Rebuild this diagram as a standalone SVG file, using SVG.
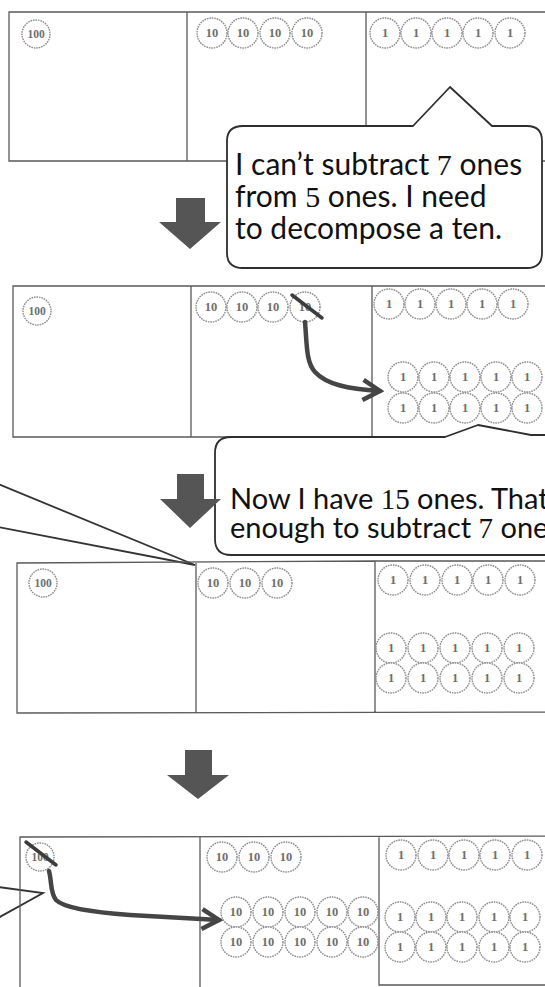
<svg xmlns="http://www.w3.org/2000/svg" width="545" height="987" viewBox="0 0 545 987">
<defs>
<style>
.frame{fill:none;stroke:#5a5a5a;stroke-width:1.3}
.coin circle{fill:#fff;stroke:#8a8a8a;stroke-width:1.4;stroke-dasharray:1.6 0.9}
.coin text{font-family:"Liberation Serif",serif;font-weight:bold;font-size:12.5px;fill:#6e6e6e;text-anchor:middle}
.coin text.h{font-size:11.5px}
.callout{fill:#fff;stroke:#2e2e2e;stroke-width:1.8;stroke-linejoin:round}
.say{font-family:Lato,"Liberation Sans",sans-serif;font-size:30px;fill:#111}
.say2{font-family:Lato,"Liberation Sans",sans-serif;font-size:29px;fill:#111}
.num{font-family:"Liberation Serif",serif}
.big{fill:#555}
.curve{fill:none;stroke:#454545;stroke-width:4.5;stroke-linecap:round}
.strike{stroke:#3c3c3c;stroke-width:3.5;stroke-linecap:round}
.ptr{fill:none;stroke:#333;stroke-width:1.8}
</style>
<marker id="chev" viewBox="0 0 24 24" refX="20" refY="12" markerWidth="24" markerHeight="24" markerUnits="userSpaceOnUse" orient="auto">
<path d="M3,2 L20,12 L3,22" fill="none" stroke="#454545" stroke-width="4.5" stroke-linejoin="miter"/>
</marker>
</defs>
<rect width="545" height="987" fill="#fff"/>

<!-- Panel 1 -->
<g id="panel1">
<path class="frame" d="M560,12 L9,12 L9,161 L560,161 M187,12 L187,161 M366,12 L366,161"/>
<g class="coin"><circle cx="36" cy="34" r="14"/><text class="h" x="36" y="38">100</text></g>
<g class="coin"><circle cx="212" cy="33" r="15"/><text x="212" y="37">10</text></g>
<g class="coin"><circle cx="243" cy="33" r="15"/><text x="243" y="37">10</text></g>
<g class="coin"><circle cx="275" cy="33" r="15"/><text x="275" y="37">10</text></g>
<g class="coin"><circle cx="307" cy="33" r="15"/><text x="307" y="37">10</text></g>
<g class="coin"><circle cx="385" cy="33" r="15"/><text x="385" y="37">1</text></g>
<g class="coin"><circle cx="416" cy="33" r="15"/><text x="416" y="37">1</text></g>
<g class="coin"><circle cx="447" cy="33" r="15"/><text x="447" y="37">1</text></g>
<g class="coin"><circle cx="478" cy="33" r="15"/><text x="478" y="37">1</text></g>
<g class="coin"><circle cx="510" cy="33" r="15"/><text x="510" y="37">1</text></g>
</g>

<!-- Callout 1 -->
<g id="callout1">
<path class="callout" d="M243,126 L413,126 L450,87 L492,126 L527,126 Q542,126 542,141 L542,253 Q542,268 527,268 L243,268 Q227,268 227,253 L227,141 Q227,126 243,126 Z"/>
<text class="say" x="235" y="175">I can’t subtract <tspan class="num">7</tspan> ones</text>
<text class="say" x="235" y="207">from <tspan class="num">5</tspan> ones.  I need</text>
<text class="say" x="235" y="239">to decompose a ten.</text>
</g>

<!-- Panel 2 -->
<g id="panel2">
<path class="frame" d="M560,286 L13,286 L13,437 L560,437 M191,286 L191,437 M372,286 L372,437"/>
<g class="coin"><circle cx="37" cy="311" r="14"/><text class="h" x="37" y="315">100</text></g>
<g class="coin"><circle cx="211" cy="307" r="15"/><text x="211" y="311">10</text></g>
<g class="coin"><circle cx="242" cy="307" r="15"/><text x="242" y="311">10</text></g>
<g class="coin"><circle cx="273" cy="307" r="15"/><text x="273" y="311">10</text></g>
<g class="coin"><circle cx="305" cy="307" r="15"/><text x="305" y="311">10</text></g>
<g class="coin"><circle cx="389" cy="304" r="15"/><text x="389" y="308">1</text></g>
<g class="coin"><circle cx="420" cy="304" r="15"/><text x="420" y="308">1</text></g>
<g class="coin"><circle cx="451" cy="304" r="15"/><text x="451" y="308">1</text></g>
<g class="coin"><circle cx="482" cy="304" r="15"/><text x="482" y="308">1</text></g>
<g class="coin"><circle cx="513" cy="304" r="15"/><text x="513" y="308">1</text></g>
<g class="coin"><circle cx="403" cy="377" r="15"/><text x="403" y="381">1</text></g>
<g class="coin"><circle cx="434" cy="377" r="15"/><text x="434" y="381">1</text></g>
<g class="coin"><circle cx="465" cy="377" r="15"/><text x="465" y="381">1</text></g>
<g class="coin"><circle cx="496" cy="377" r="15"/><text x="496" y="381">1</text></g>
<g class="coin"><circle cx="527" cy="377" r="15"/><text x="527" y="381">1</text></g>
<g class="coin"><circle cx="403" cy="408" r="15"/><text x="403" y="412">1</text></g>
<g class="coin"><circle cx="434" cy="408" r="15"/><text x="434" y="412">1</text></g>
<g class="coin"><circle cx="465" cy="408" r="15"/><text x="465" y="412">1</text></g>
<g class="coin"><circle cx="496" cy="408" r="15"/><text x="496" y="412">1</text></g>
<g class="coin"><circle cx="527" cy="408" r="15"/><text x="527" y="412">1</text></g>
<line class="strike" x1="292" y1="295" x2="322" y2="318"/>
</g>

<!-- Callout 2 -->
<g id="callout2">
<path class="callout" d="M560,435 L531,435 L478,425 L445,437 L231,437 Q215,437 215,453 L215,539 Q215,555 231,555 L560,555"/>
<text class="say2" x="230" y="509">Now I have <tspan class="num">15</tspan> ones.  That</text>
<text class="say2" x="230" y="538">enough to subtract <tspan class="num">7</tspan> one</text>
</g>

<!-- Pointers of callouts outside the picture -->
<g id="offscreen-callouts">
<path class="ptr" d="M-2,484 L195,565 L-2,527"/>
<path class="ptr" d="M-2,887 L43,893 L-2,918"/>
</g>

<!-- Panel 3 -->
<g id="panel3">
<path class="frame" d="M560,561 L375,561 L17,563 L17,713 L560,712 M196,563 L196,713 M375,561 L375,712"/>
<g class="coin"><circle cx="43" cy="583" r="14"/><text class="h" x="43" y="587">100</text></g>
<g class="coin"><circle cx="213" cy="583" r="15"/><text x="213" y="587">10</text></g>
<g class="coin"><circle cx="245" cy="583" r="15"/><text x="245" y="587">10</text></g>
<g class="coin"><circle cx="277" cy="583" r="15"/><text x="277" y="587">10</text></g>
<g class="coin"><circle cx="393" cy="580" r="15"/><text x="393" y="584">1</text></g>
<g class="coin"><circle cx="425" cy="580" r="15"/><text x="425" y="584">1</text></g>
<g class="coin"><circle cx="457" cy="580" r="15"/><text x="457" y="584">1</text></g>
<g class="coin"><circle cx="488" cy="580" r="15"/><text x="488" y="584">1</text></g>
<g class="coin"><circle cx="520" cy="580" r="15"/><text x="520" y="584">1</text></g>
<g class="coin"><circle cx="391" cy="648" r="15"/><text x="391" y="652">1</text></g>
<g class="coin"><circle cx="423" cy="648" r="15"/><text x="423" y="652">1</text></g>
<g class="coin"><circle cx="455" cy="648" r="15"/><text x="455" y="652">1</text></g>
<g class="coin"><circle cx="487" cy="648" r="15"/><text x="487" y="652">1</text></g>
<g class="coin"><circle cx="519" cy="648" r="15"/><text x="519" y="652">1</text></g>
<g class="coin"><circle cx="391" cy="678" r="15"/><text x="391" y="682">1</text></g>
<g class="coin"><circle cx="423" cy="678" r="15"/><text x="423" y="682">1</text></g>
<g class="coin"><circle cx="455" cy="678" r="15"/><text x="455" y="682">1</text></g>
<g class="coin"><circle cx="487" cy="678" r="15"/><text x="487" y="682">1</text></g>
<g class="coin"><circle cx="519" cy="678" r="15"/><text x="519" y="682">1</text></g>
</g>

<!-- Panel 4 -->
<g id="panel4">
<path class="frame" d="M560,836 L20,837 L20,990 M200,837 L200,990 M379,836 L379,985 L560,985"/>
<g class="coin"><circle cx="40" cy="857" r="14"/><text class="h" x="40" y="861">100</text></g>
<g class="coin"><circle cx="222" cy="857" r="15"/><text x="222" y="861">10</text></g>
<g class="coin"><circle cx="254" cy="857" r="15"/><text x="254" y="861">10</text></g>
<g class="coin"><circle cx="286" cy="857" r="15"/><text x="286" y="861">10</text></g>
<g class="coin"><circle cx="236" cy="912" r="15"/><text x="236" y="916">10</text></g>
<g class="coin"><circle cx="268" cy="912" r="15"/><text x="268" y="916">10</text></g>
<g class="coin"><circle cx="300" cy="912" r="15"/><text x="300" y="916">10</text></g>
<g class="coin"><circle cx="332" cy="912" r="15"/><text x="332" y="916">10</text></g>
<g class="coin"><circle cx="363" cy="912" r="15"/><text x="363" y="916">10</text></g>
<g class="coin"><circle cx="236" cy="942" r="15"/><text x="236" y="946">10</text></g>
<g class="coin"><circle cx="268" cy="942" r="15"/><text x="268" y="946">10</text></g>
<g class="coin"><circle cx="300" cy="942" r="15"/><text x="300" y="946">10</text></g>
<g class="coin"><circle cx="332" cy="942" r="15"/><text x="332" y="946">10</text></g>
<g class="coin"><circle cx="363" cy="942" r="15"/><text x="363" y="946">10</text></g>
<g class="coin"><circle cx="401" cy="855" r="15"/><text x="401" y="859">1</text></g>
<g class="coin"><circle cx="433" cy="855" r="15"/><text x="433" y="859">1</text></g>
<g class="coin"><circle cx="464" cy="855" r="15"/><text x="464" y="859">1</text></g>
<g class="coin"><circle cx="495" cy="855" r="15"/><text x="495" y="859">1</text></g>
<g class="coin"><circle cx="527" cy="855" r="15"/><text x="527" y="859">1</text></g>
<g class="coin"><circle cx="400" cy="917" r="15"/><text x="400" y="921">1</text></g>
<g class="coin"><circle cx="431" cy="917" r="15"/><text x="431" y="921">1</text></g>
<g class="coin"><circle cx="462" cy="917" r="15"/><text x="462" y="921">1</text></g>
<g class="coin"><circle cx="494" cy="917" r="15"/><text x="494" y="921">1</text></g>
<g class="coin"><circle cx="525" cy="917" r="15"/><text x="525" y="921">1</text></g>
<g class="coin"><circle cx="400" cy="947" r="15"/><text x="400" y="951">1</text></g>
<g class="coin"><circle cx="431" cy="947" r="15"/><text x="431" y="951">1</text></g>
<g class="coin"><circle cx="462" cy="947" r="15"/><text x="462" y="951">1</text></g>
<g class="coin"><circle cx="494" cy="947" r="15"/><text x="494" y="951">1</text></g>
<g class="coin"><circle cx="525" cy="947" r="15"/><text x="525" y="951">1</text></g>
<line class="strike" x1="26" y1="842" x2="56" y2="865"/>
</g>

<!-- Connectors -->
<g id="connectors">
<polygon class="big" points="176,198 205,198 205,222 221,222 190,249 159,222 176,222"/>
<polygon class="big" points="177,474 204,474 204,499 221,499 190,528 160,499 177,499"/>
<polygon class="big" points="185,750 212,750 212,775 229,775 198,799 167,775 185,775"/>
<path class="curve" marker-end="url(#chev)" d="M305,322 C307,345 306,362 315,372 C326,384 347,389 380,391"/>
<path class="curve" marker-end="url(#chev)" d="M49,871 C52,882 50,893 56,900 C64,908 90,912 130,915 L219,920"/>
</g>
</svg>
